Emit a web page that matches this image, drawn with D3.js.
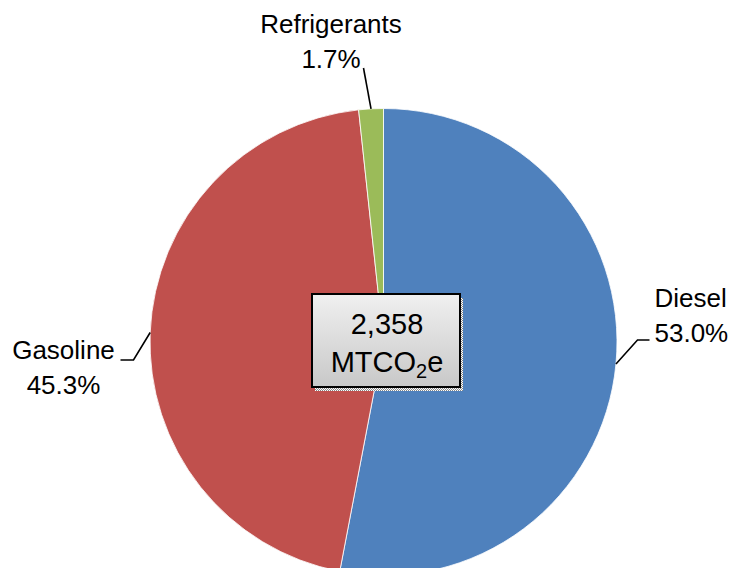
<!DOCTYPE html>
<html>
<head>
<meta charset="utf-8">
<script src="https://cdn.jsdelivr.net/npm/d3@7"></script>
<style>
  body { margin: 0; background: #fff; }
  text { font-family: "Liberation Sans", Arial, sans-serif; fill: #000; }
</style>
</head>
<body>
<svg class="chart"></svg>
<script>
// data
var categories = ["Diesel", "Gasoline", "Refrigerants"];
var shares = [53.0, 45.3, 1.7];
var colors = ["#4f81bd", "#c0504d", "#9bbb59"];
var totalValue = "2,358";
var totalUnit = "MTCO";

var width = 730,
    height = 568,
    cx = 383.5,
    cy = 342,
    radius = 233.5;

var svg = d3.select(".chart")
    .attr("width", width)
    .attr("height", height);

var data = categories.map(function(c, i) { return {name: c, value: shares[i]}; });

var pie = d3.pie()
    .sort(null)
    .value(function(d) { return d.value; });

var arc = d3.arc()
    .innerRadius(0)
    .outerRadius(radius);

var arcs = pie(data);

var g = svg.append("g")
    .attr("transform", "translate(" + cx + "," + cy + ")");

g.selectAll("path.slice")
    .data(arcs)
    .enter().append("path")
    .attr("class", "slice")
    .attr("d", arc)
    .attr("fill", function(d, i) { return colors[i]; })
    .attr("stroke", "#fff")
    .attr("stroke-width", 0.8);

// point on the rim at the middle of a slice
function rim(d, r) {
  var a = (d.startAngle + d.endAngle) / 2;
  return [r * Math.sin(a), -r * Math.cos(a)];
}

// leader line layout: elbow and end relative to centre, plus label anchor
var layout = {
  "Diesel":       {elbow: [254, -2],   end: [266, -2],   tx: 271, ty: -35.5, anchor: "start"},
  "Gasoline":     {elbow: [-250, 18],  end: [-263, 18],  tx: -320, ty: 16.5, anchor: "middle"},
  "Refrigerants": {elbow: [-20, -274], end: [-20, -274], tx: -52.5, ty: -309, anchor: "middle"}
};

arcs.forEach(function(d) {
  var L = layout[d.data.name];
  var p0 = rim(d, radius);
  g.append("polyline")
      .attr("points", [p0, L.elbow, L.end].map(function(p) { return p.join(","); }).join(" "))
      .attr("fill", "none")
      .attr("stroke", "#000")
      .attr("stroke-width", 1.6);

  var t = g.append("text")
      .attr("x", L.tx)
      .attr("y", L.ty)
      .attr("text-anchor", L.anchor)
      .style("font-size", "26px");
  t.append("tspan").attr("x", L.tx).text(d.data.name);
  t.append("tspan").attr("x", L.tx).attr("dy", 35).text(d.data.value.toFixed(1) + "%");
});

// total box in the middle
var defs = svg.append("defs");
var grad = defs.append("linearGradient")
    .attr("id", "boxfill")
    .attr("x1", 0).attr("y1", 0).attr("x2", 0).attr("y2", 1);
grad.append("stop").attr("offset", "0%").attr("stop-color", "#f0f0f0");
grad.append("stop").attr("offset", "100%").attr("stop-color", "#c8c8c8");

var pat = defs.append("pattern")
    .attr("id", "shadow")
    .attr("width", 2).attr("height", 2)
    .attr("patternUnits", "userSpaceOnUse");
pat.append("rect").attr("width", 2).attr("height", 2).attr("fill", "#fff");
pat.append("rect").attr("width", 1).attr("height", 1).attr("fill", "#888");
pat.append("rect").attr("x", 1).attr("y", 1).attr("width", 1).attr("height", 1).attr("fill", "#888");

var bx = 312, by = 294, bw = 148, bh = 93;

svg.append("rect")
    .attr("x", bx + 3).attr("y", by + 4)
    .attr("width", bw).attr("height", bh)
    .attr("fill", "url(#shadow)");

svg.append("rect")
    .attr("x", bx).attr("y", by)
    .attr("width", bw).attr("height", bh)
    .attr("fill", "url(#boxfill)")
    .attr("stroke", "#000")
    .attr("stroke-width", 2);

svg.append("text")
    .attr("x", bx + bw / 2 + 1)
    .attr("y", by + 39.5)
    .attr("text-anchor", "middle")
    .style("font-size", "29px")
    .text(totalValue);

var unit = svg.append("text")
    .attr("x", bx + bw / 2 + 1)
    .attr("y", by + 78)
    .attr("text-anchor", "middle")
    .style("font-size", "29px");
unit.append("tspan").text(totalUnit);
unit.append("tspan").attr("dy", 6).style("font-size", "20px").text("2");
unit.append("tspan").attr("dy", -6).text("e");
</script>
</body>
</html>
